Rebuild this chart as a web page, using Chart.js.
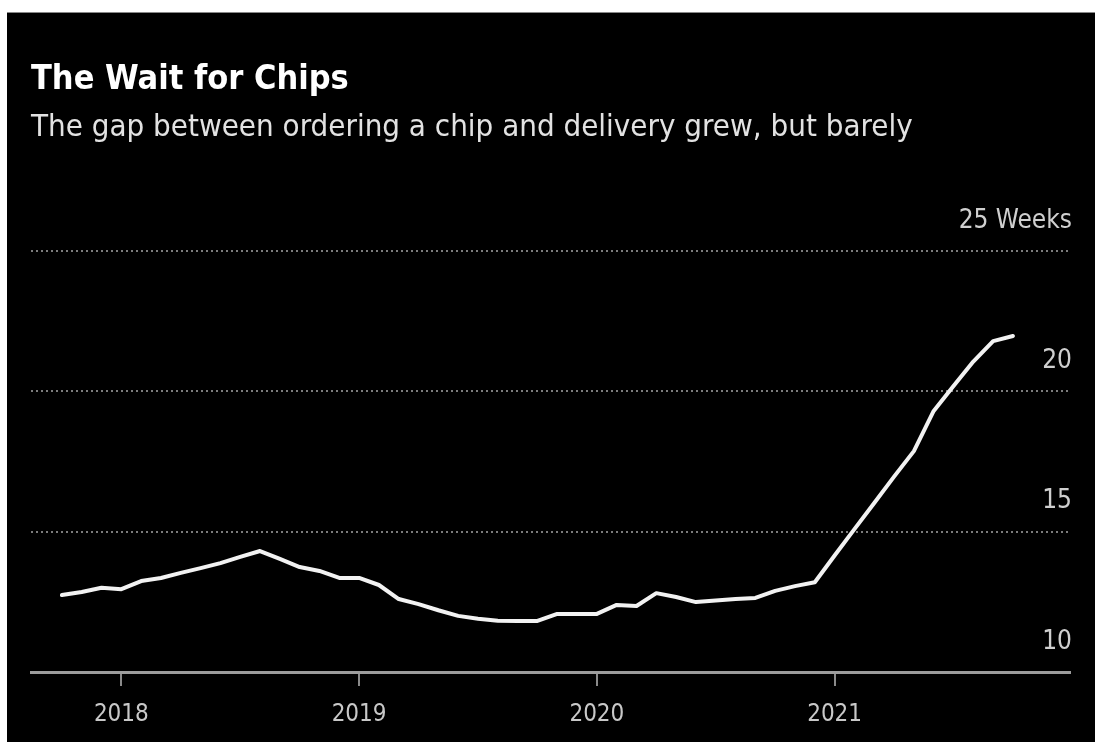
<!DOCTYPE html>
<html>
<head>
<meta charset="utf-8">
<script src="https://cdn.jsdelivr.net/npm/chart.js@4"></script>
<style>
  html, body { margin: 0; padding: 0; background: #fff; }
  #wrap {
    position: absolute; left: 7px; top: 12px;
    width: 1088px; height: 730px;
    background: #000; border-top: 1px solid #888;
  }
</style>
</head>
<body>
<div id="wrap"><canvas id="chipChart" width="1088" height="730"></canvas></div>
<script>
const FONT = "'Liberation Sans Narrow', 'DejaVu Sans Condensed', 'Arial Narrow', sans-serif";

// monthly readings, Oct 2017 - Oct 2021
const months = [
  '2017-10', '2017-11', '2017-12',
  '2018-01', '2018-02', '2018-03', '2018-04', '2018-05', '2018-06',
  '2018-07', '2018-08', '2018-09', '2018-10', '2018-11', '2018-12',
  '2019-01', '2019-02', '2019-03', '2019-04', '2019-05', '2019-06',
  '2019-07', '2019-08', '2019-09', '2019-10', '2019-11', '2019-12',
  '2020-01', '2020-02', '2020-03', '2020-04', '2020-05', '2020-06',
  '2020-07', '2020-08', '2020-09', '2020-10', '2020-11', '2020-12',
  '2021-01', '2021-02', '2021-03', '2021-04', '2021-05', '2021-06',
  '2021-07', '2021-08', '2021-09', '2021-10'
];
// lead time, weeks
const leadWeeks = [
  12.74, 12.85, 13.0,
  12.95, 13.24, 13.35, 13.53, 13.7, 13.88,
  14.1, 14.31, 14.03, 13.74, 13.6, 13.35,
  13.35, 13.1, 12.6, 12.42, 12.2, 12.0,
  11.9, 11.83, 11.82, 11.82, 12.07, 12.07,
  12.07, 12.39, 12.35, 12.81, 12.67, 12.49,
  12.55, 12.6, 12.64, 12.89, 13.06, 13.2,
  14.15, 15.09, 16.02, 16.96, 17.87, 19.3,
  20.19, 21.06, 21.79, 21.97
];
const yearTicks = [2018, 2019, 2020, 2021];
const yTicks = [10, 15, 20, 25];

// month string -> fractional year, so the x axis can tick on whole years
const toYear = m => {
  const [y, mo] = m.split('-').map(Number);
  return y + (mo - 1) / 12;
};
const points = months.map((m, i) => ({ x: toYear(m), y: leadWeeks[i] }));

const ctx = document.getElementById('chipChart').getContext('2d');
new Chart(ctx, {
  type: 'line',
  data: {
    datasets: [{
      data: points,
      borderColor: '#f2f2f2',
      borderWidth: 4,
      borderJoinStyle: 'round',
      borderCapStyle: 'round',
      pointRadius: 0,
      tension: 0
    }]
  },
  options: {
    responsive: false,
    animation: false,
    events: [],
    layout: { padding: { left: 24, right: 21, top: 0, bottom: 0 } },
    plugins: {
      legend: { display: false },
      tooltip: { enabled: false },
      title: {
        display: true,
        text: 'The Wait for Chips',
        align: 'start',
        color: '#ffffff',
        font: { family: FONT, size: 34, weight: 'bold' },
        padding: { top: 46.6, bottom: 0 }
      },
      subtitle: {
        display: true,
        text: 'The gap between ordering a chip and delivery grew, but barely',
        align: 'start',
        color: '#e2e2e2',
        font: { family: FONT, size: 31 },
        padding: { top: 8.5, bottom: 104.9 }
      }
    },
    scales: {
      x: {
        type: 'linear',
        min: 2017.62,
        max: 2021.99,
        afterBuildTicks: axis => { axis.ticks = yearTicks.map(v => ({ value: v })); },
        grid: {
          drawOnChartArea: false,
          drawTicks: true,
          tickLength: 14,
          color: '#8a8a8a',
          lineWidth: 2
        },
        border: { display: true, color: '#9c9c9c', width: 3 },
        ticks: {
          color: '#c8c8c8',
          font: { family: FONT, size: 24 },
          padding: 14.1,
          maxRotation: 0,
          callback: v => String(v)
        }
      },
      y: {
        position: 'right',
        min: 10,
        max: 25,
        afterBuildTicks: axis => { axis.ticks = yTicks.map(v => ({ value: v })); },
        grid: {
          drawTicks: false,
          color: c => (c.tick && c.tick.value === 10) ? 'rgba(0,0,0,0)' : '#7c7c7c',
          lineWidth: 2
        },
        // in Chart.js v4 the border dash also dashes the grid lines
        border: { display: false, dash: [2, 3] },
        ticks: {
          mirror: true,
          padding: 2,
          labelOffset: -30,
          color: '#cfcfcf',
          font: { family: FONT, size: 26 },
          callback: v => v === 25 ? '25 Weeks' : String(v)
        }
      }
    }
  }
});
</script>
</body>
</html>
